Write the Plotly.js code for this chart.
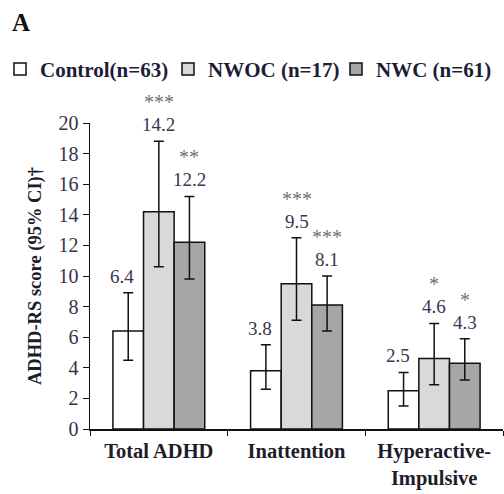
<!DOCTYPE html>
<html>
<head>
<meta charset="utf-8">
<script src="https://cdn.plot.ly/plotly-3.0.1.min.js"></script>
<style>html,body{margin:0;padding:0;background:#fff;}#chart{width:504px;height:494px;}</style>
</head>
<body>
<div id="chart"></div>
<script>
// Data
const categories = ['Total ADHD', 'Inattention', 'Hyperactive-<br>Impulsive'];
const groupNames = ['Control(n=63)', 'NWOC (n=17)', 'NWC (n=61)'];

const controlMean  = [6.4, 3.8, 2.5];
const controlLower = [4.5, 2.6, 1.5];
const controlUpper = [8.9, 5.5, 3.7];

const nwocMean  = [14.2, 9.5, 4.6];
const nwocLower = [10.6, 7.1, 2.9];
const nwocUpper = [18.8, 12.5, 6.9];

const nwcMean  = [12.2, 8.1, 4.3];
const nwcLower = [9.8, 6.4, 3.2];
const nwcUpper = [15.2, 10.0, 5.9];

const controlStars = ['', '', ''];
const nwocStars = ['***', '***', '*'];
const nwcStars  = ['**', '***', '*'];

const yTickVals = [0, 2, 4, 6, 8, 10, 12, 14, 16, 18, 20];

// Styling
const FONT = '"Liberation Serif", "Times New Roman", serif';
const fills = ['#ffffff', '#d9d9d9', '#a6a6a6'];
const series = [
  {mean: controlMean, lo: controlLower, hi: controlUpper, stars: controlStars},
  {mean: nwocMean, lo: nwocLower, hi: nwocUpper, stars: nwocStars},
  {mean: nwcMean, lo: nwcLower, hi: nwcUpper, stars: nwcStars}
];

const bargap = 0.333;
const barW = (1 - bargap) / 3;

const traces = series.map((s, k) => ({
  type: 'bar',
  name: groupNames[k],
  x: categories,
  y: s.mean,
  marker: {color: fills[k], line: {color: '#111', width: 1.5}},
  error_y: {
    type: 'data', symmetric: false,
    array: s.hi.map((h, i) => h - s.mean[i]),
    arrayminus: s.mean.map((m, i) => m - s.lo[i]),
    color: '#111', thickness: 1.5, width: 5
  },
  hoverinfo: 'skip'
}));

const annotations = [];
series.forEach((s, k) => {
  s.mean.forEach((m, i) => {
    const xpos = i + (k - 1) * barW;
    annotations.push({
      x: xpos, y: s.hi[i], xref: 'x', yref: 'y',
      text: m.toFixed(1), showarrow: false,
      yanchor: 'bottom', yshift: 4, xshift: k === 0 ? -6 : 0,
      font: {family: FONT, size: 19, color: '#3a3550'}
    });
    if (s.stars[i]) {
      annotations.push({
        x: xpos, y: s.hi[i], xref: 'x', yref: 'y',
        text: s.stars[i], showarrow: false,
        yanchor: 'bottom', yshift: 26,
        font: {family: FONT, size: 20, color: '#70707e'}
      });
    }
  });
});

const layout = {
  width: 504, height: 494,
  margin: {l: 90, r: 1, t: 123, b: 65},
  paper_bgcolor: '#fff', plot_bgcolor: '#fff',
  barmode: 'group', bargap: bargap, bargroupgap: 0,
  title: {
    text: '<b>A</b>', x: 0.024, xanchor: 'left', xref: 'container',
    y: 0.955, yanchor: 'middle', yref: 'container',
    font: {family: FONT, size: 25, color: '#111'}
  },
  showlegend: true,
  legend: {
    orientation: 'h', x: -0.213, xanchor: 'left', y: 1.175, yanchor: 'middle',
    font: {family: FONT, size: 21, color: '#1d1d3a', weight: 'bold'},
    itemwidth: 30, entrywidth: 123, entrywidthmode: 'pixels',
    traceorder: 'normal', bgcolor: 'rgba(0,0,0,0)'
  },
  xaxis: {
    type: 'category',
    tickvals: categories,
    ticktext: categories.map(c => '<b>' + c + '</b>'),
    showline: true, linecolor: '#111', linewidth: 1.5,
    ticks: 'outside', tickson: 'boundaries', ticklen: 5, tickcolor: '#111',
    tickfont: {family: FONT, size: 20.5, color: '#1d1d2a'},
    ticklabelstandoff: 3,
    showgrid: false, zeroline: false, fixedrange: true
  },
  yaxis: {
    range: [0, 20], tickvals: yTickVals, ticktext: yTickVals.map(String),
    showline: true, linecolor: '#111', linewidth: 1.5,
    ticks: 'outside', ticklen: 6, tickcolor: '#111',
    tickfont: {family: FONT, size: 20, color: '#3a2f4a'},
    showgrid: false, zeroline: false,
    title: {
      text: '<b>ADHD-RS score (95% CI)†</b>',
      font: {family: FONT, size: 18.5, color: '#1d1d2a'},
      standoff: 12
    }
  },
  annotations: annotations
};

Plotly.newPlot('chart', traces, layout, {displayModeBar: false, staticPlot: true});
</script>
</body>
</html>
